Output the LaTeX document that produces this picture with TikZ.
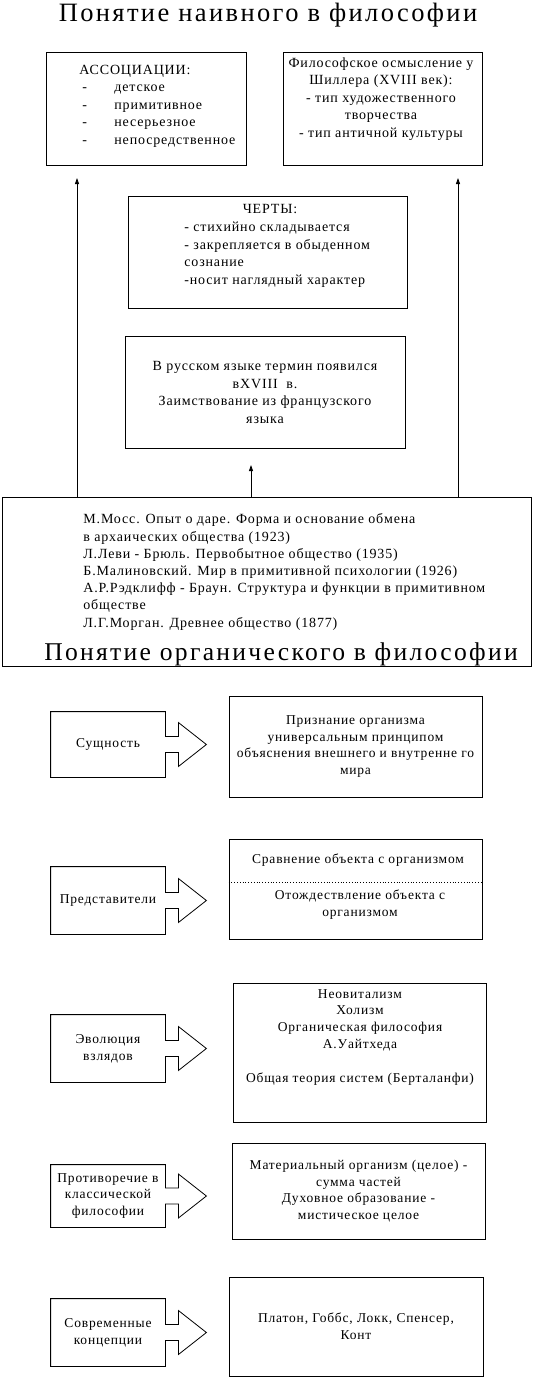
\documentclass[tikz,border=0pt]{standalone}
\usepackage{fontspec}
\setmainfont{Liberation Serif}
\newfontfamily\wide[LetterSpace=6]{Liberation Serif}
\newfontfamily\widehead[LetterSpace=9]{Liberation Serif}
\usetikzlibrary{arrows.meta,positioning,calc}

\begin{document}
\begin{tikzpicture}[
  x=1pt, y=-1pt, line width=0.8pt,
  frame/.style={rectangle, draw=black, inner sep=0pt},
  note/.style={inner sep=0pt, font=\wide\fontsize{14}{17.5}\selectfont},
  card/.style={rectangle, draw=black, inner sep=0pt, align=center, font=\wide\fontsize{13.5}{16.7}\selectfont},
  tag/.style={rectangle, inner sep=0pt, minimum width=114pt, align=center, font=\wide\fontsize{13.5}{16.7}\selectfont},
  heading/.style={inner sep=0pt, font=\widehead\fontsize{26.5}{30}\selectfont},
  >={Triangle[length=6pt,width=4pt]}
]
\useasboundingbox (0,0) rectangle (534,1378);

% --- Понятие наивного в философии ---
\node[heading, anchor=base] (title1) at (268,22) {Понятие наивного в философии};
\node[frame, minimum width=200pt, minimum height=113pt] (assoc) at (146,108.5) {};
\node[note, anchor=base west, align=left] (assoctxt) at (79,144) {АССОЦИАЦИИ:\\
  \makebox[35pt][l]{\hspace*{3pt}-}детское\\
  \makebox[35pt][l]{\hspace*{3pt}-}примитивное\\
  \makebox[35pt][l]{\hspace*{3pt}-}несерьезное\\
  \makebox[35pt][l]{\hspace*{3pt}-}непосредственное};
\node[frame, minimum width=199pt, minimum height=113pt] (schiller) at (382.5,108.5) {};
\node[note, anchor=base, align=center] (schillertxt) at (381,137) {Философское осмысление у\\
  Шиллера (XVIII век):\\- тип художественного\\творчества\\- тип античной культуры};

\node[frame, minimum width=279pt, minimum height=112pt] (traits) at (267.5,252) {};
\node[note, anchor=base] (traitshead) at (270,213) {ЧЕРТЫ:};
\node[note, anchor=base west, align=left] (traitstxt) at (184,284) {- стихийно складывается\\
  - закрепляется в обыденном\\сознание\\-носит наглядный характер};

\node[frame, minimum width=280pt, minimum height=112pt] (russian) at (265,392) {};
\node[note, anchor=base, align=center] (russiantxt) at (265,423) {В русском языке термин появился\\
  вXVIII\ \ в.\\Заимствование из французского\\языка};

\node[frame, minimum width=529pt, minimum height=169pt] (sources) at (266.5,581.5) {};
\node[note, anchor=base west, align=left, font=\wide\fontsize{14}{17.2}\selectfont] (sourcestxt) at (83,627) {М.Мосс. Опыт о даре. Форма и основание обмена\\
  в архаических общества (1923)\\
  Л.Леви - Брюль. Первобытное общество (1935)\\
  Б.Малиновский. Мир в примитивной психологии (1926)\\
  А.Р.Рэдклифф - Браун. Структура и функции в примитивном\\
  обществе\\
  Л.Г.Морган. Древнее общество (1877)};

\coordinate (tipL) at (77,178);
\coordinate (tipR) at (458,178);
\coordinate (tipC) at (251,465);
\draw[->] (sources.north -| tipL) -- (tipL);
\draw[->] (sources.north -| tipR) -- (tipR);
\draw[->] (sources.north -| tipC) -- (tipC);

% --- Понятие органического в философии ---
\node[heading, anchor=base, font=\widehead\fontsize{25.6}{30}\selectfont] (title2) at (281,660) {Понятие органического в философии};

\node[tag, minimum height=65pt] (ess) at (108,744.5) {Сущность};
\node[card, minimum width=253pt, minimum height=101pt] (essbox) at (355.5,746.5) {Признание организма\\
  универсальным принципом\\объяснения внешнего и внутренне го\\мира};

\node[tag, minimum height=67pt] (rep) at (108,900.5) {Представители};
\node[frame, minimum width=253pt, minimum height=100pt] (repbox) at (355.5,889) {};
\node[note, anchor=base, font=\wide\fontsize{13.5}{16.7}\selectfont] (reptxt1) at (358,863) {Сравнение объекта с организмом};
\node[note, anchor=base, align=center, font=\wide\fontsize{13.5}{16.7}\selectfont] (reptxt2) at (360,916) {Отождествление объекта с\\организмом};
\draw[dotted] ($(repbox.north west)+(0,44)$) -- ($(repbox.north east)+(0,44)$);

\node[tag, minimum height=67pt] (evo) at (108,1048.5) {Эволюция\\взлядов};
\node[frame, minimum width=253pt, minimum height=139pt] (evobox) at (359.5,1052.5) {};
\node[note, anchor=base, align=center, font=\wide\fontsize{13.5}{16.7}\selectfont] (evotxt) at (360,1082) {Неовитализм\\Холизм\\Органическая философия\\А.Уайтхеда\\[17pt]Общая теория систем (Берталанфи)};

\node[tag, minimum height=62pt] (con) at (108,1196) {Противоречие в\\классической\\философии};
\node[card, minimum width=253pt, minimum height=96pt] (conbox) at (358.5,1191) {Материальный организм (целое) -\\
  сумма частей\\Духовное образование -\\мистическое целое};

\node[tag, minimum height=67pt] (mod) at (108,1332.5) {Современные\\концепции};
\node[card, minimum width=254pt, minimum height=99pt] (modbox) at (356,1326.5) {Платон, Гоббс, Локк, Спенсер,\\Конт};

% --- Стрелки-выноски ---
\foreach \c in {ess,rep,evo,con,mod}
  \draw (\c.north east) -- ($(\c.east)+(0,-8)$) -- ++(13,0) -- ++(0,-14) -- ++(28,22)
    -- ++(-28,22) -- ++(0,-14) -- ++(-13,0) -- (\c.south east) -- (\c.south west)
    -- (\c.north west) -- cycle;

\end{tikzpicture}
\end{document}
